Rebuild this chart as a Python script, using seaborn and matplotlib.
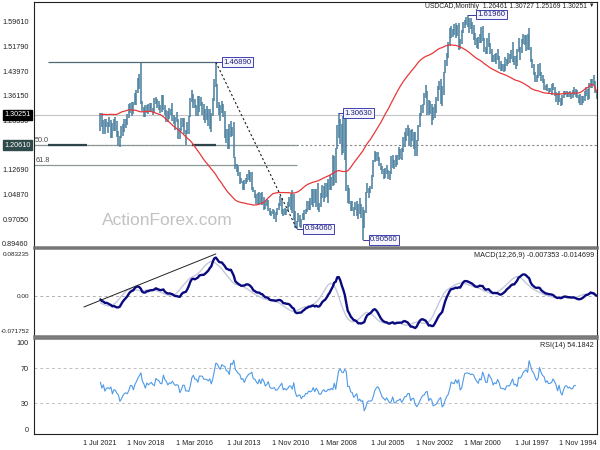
import numpy as np
import pandas as pd
import matplotlib
matplotlib.use("Agg")
import matplotlib.pyplot as plt
import matplotlib.transforms as mtransforms
import seaborn as sns

# ---------------- data (USDCAD monthly, Nov 1994 .. Jun 2022) ----------------
start = "1994-11"
end = "2022-06"

close = [
    1.3745, 1.4030,
    1.4135, 1.3965, 1.4035, 1.3585, 1.3660, 1.3745, 1.3500, 1.3435, 1.3420, 1.3460, 1.3550, 1.3650,
    1.3760, 1.3750, 1.3630, 1.3625, 1.3680, 1.3650, 1.3720, 1.3710, 1.3590, 1.3390, 1.3470, 1.3695,
    1.3480, 1.3690, 1.3840, 1.3960, 1.3830, 1.3800, 1.3790, 1.3900, 1.3850, 1.4080, 1.4140, 1.4290,
    1.4580, 1.4240, 1.4150, 1.4330, 1.4580, 1.4710, 1.5110, 1.5730, 1.5200, 1.5460, 1.5410, 1.5320,
    1.5140, 1.5040, 1.5110, 1.4580, 1.4740, 1.4700, 1.5110, 1.4900, 1.4690, 1.4700, 1.4680, 1.4450,
    1.4510, 1.4520, 1.4530, 1.4810, 1.4990, 1.4790, 1.4850, 1.4740, 1.5040, 1.5210, 1.5390, 1.5000,
    1.5020, 1.5420, 1.5750, 1.5340, 1.5430, 1.5170, 1.5320, 1.5500, 1.5790, 1.5880, 1.5850, 1.5950,
    1.5970, 1.5980, 1.5950, 1.5680, 1.5300, 1.5190, 1.5800, 1.5600, 1.5850, 1.5610, 1.5650, 1.5720,
    1.5280, 1.4880, 1.4700, 1.4350, 1.3730, 1.3480, 1.4040, 1.3860, 1.3500, 1.3190, 1.3020, 1.2920,
    1.3260, 1.3360, 1.3090, 1.3720, 1.3640, 1.3350, 1.3300, 1.3030, 1.2650, 1.2200, 1.1880, 1.2020,
    1.2390, 1.2350, 1.2100, 1.2580, 1.2550, 1.2260, 1.2250, 1.1900, 1.1610, 1.1810, 1.1660, 1.1630,
    1.1390, 1.1370, 1.1670, 1.1190, 1.1030, 1.1150, 1.1300, 1.1060, 1.1150, 1.1230, 1.1420, 1.1650,
    1.1790, 1.1700, 1.1530, 1.1090, 1.0700, 1.0660, 1.0670, 1.0560, 0.9950, 0.9450, 0.9990, 0.9880,
    1.0010, 0.9840, 1.0260, 1.0070, 0.9900, 1.0190, 1.0240, 1.0620, 1.0600, 1.2140, 1.2420, 1.2180,
    1.2270, 1.2730, 1.2600, 1.1950, 1.0920, 1.1630, 1.0780, 1.0950, 1.0720, 1.0810, 1.0560, 1.0500,
    1.0690, 1.0520, 1.0150, 1.0150, 1.0450, 1.0650, 1.0290, 1.0650, 1.0290, 1.0200, 1.0270, 0.9990,
    1.0010, 0.9720, 0.9720, 0.9470, 0.9700, 0.9640, 0.9550, 0.9790, 1.0470, 0.9940, 1.0200, 1.0190,
    1.0000, 0.9880, 0.9980, 0.9880, 1.0340, 1.0180, 1.0030, 0.9860, 0.9830, 0.9990, 0.9940, 0.9940,
    1.0000, 1.0310, 1.0160, 1.0080, 1.0360, 1.0520, 1.0270, 1.0540, 1.0300, 1.0430, 1.0610, 1.0630,
    1.1140, 1.1070, 1.1050, 1.0960, 1.0850, 1.0670, 1.0910, 1.0870, 1.1200, 1.1270, 1.1430, 1.1600,
    1.2700, 1.2500, 1.2670, 1.2070, 1.2450, 1.2490, 1.3080, 1.3150, 1.3340, 1.3080, 1.3350, 1.3840,
    1.4010, 1.3530, 1.2990, 1.2550, 1.3100, 1.2920, 1.3060, 1.3120, 1.3110, 1.3410, 1.3430, 1.3430,
    1.3030, 1.3290, 1.3300, 1.3650, 1.3500, 1.2960, 1.2450, 1.2500, 1.2480, 1.2890, 1.2900, 1.2560,
    1.2300, 1.2830, 1.2890, 1.2830, 1.2960, 1.3150, 1.3010, 1.3050, 1.2920, 1.3160, 1.3300, 1.3640,
    1.3120, 1.3150, 1.3350, 1.3410, 1.3510, 1.3090, 1.3160, 1.3310, 1.3240, 1.3170, 1.3280, 1.2990,
    1.3230, 1.3420, 1.4070, 1.3920, 1.3780, 1.3580, 1.3400, 1.3050, 1.3320, 1.3320, 1.3000, 1.2730,
    1.2780, 1.2720, 1.2570, 1.2290, 1.2070, 1.2390, 1.2480, 1.2630, 1.2670, 1.2380, 1.2770, 1.2650,
    1.2710, 1.2680, 1.2500, 1.2850, 1.2650, 1.30251,
]

high = [
    1.3800, 1.4080,
    1.4267, 1.4160, 1.4160, 1.4040, 1.3840, 1.3900, 1.3780, 1.3620, 1.3600, 1.3690, 1.3650, 1.3820,
    1.3840, 1.3890, 1.3790, 1.3700, 1.3760, 1.3740, 1.3770, 1.3780, 1.3760, 1.3640, 1.3540, 1.3760,
    1.3720, 1.3750, 1.3890, 1.4030, 1.3990, 1.3880, 1.3860, 1.3990, 1.3960, 1.4140, 1.4270, 1.4390,
    1.4660, 1.4620, 1.4280, 1.4390, 1.4620, 1.4790, 1.5160, 1.5770, 1.5570, 1.5560, 1.5550, 1.5590,
    1.5410, 1.5170, 1.5460, 1.5120, 1.4890, 1.4890, 1.5320, 1.5070, 1.4960, 1.4980, 1.4800, 1.4850,
    1.4620, 1.4620, 1.4710, 1.4870, 1.5090, 1.4990, 1.4960, 1.4900, 1.5110, 1.5280, 1.5600, 1.5460,
    1.5180, 1.5460, 1.5820, 1.5800, 1.5580, 1.5500, 1.5460, 1.5600, 1.5850, 1.5950, 1.6090, 1.6090,
    1.6196, 1.6120, 1.6030, 1.5960, 1.5700, 1.5420, 1.5930, 1.5880, 1.5940, 1.5890, 1.5750, 1.5820,
    1.5760, 1.5340, 1.4990, 1.4750, 1.4390, 1.3930, 1.4140, 1.4080, 1.3940, 1.3580, 1.3350, 1.3260,
    1.3370, 1.3470, 1.3490, 1.3780, 1.3970, 1.3710, 1.3360, 1.3340, 1.3080, 1.2690, 1.2230, 1.2460,
    1.2480, 1.2560, 1.2550, 1.2600, 1.2690, 1.2600, 1.2460, 1.2310, 1.1960, 1.1920, 1.2000, 1.1740,
    1.1730, 1.1580, 1.1740, 1.1710, 1.1230, 1.1270, 1.1440, 1.1330, 1.1290, 1.1400, 1.1480, 1.1690,
    1.1850, 1.1830, 1.1860, 1.1570, 1.1100, 1.0760, 1.0700, 1.0850, 1.0580, 0.9990, 1.0110, 1.0200,
    1.0380, 1.0180, 1.0300, 1.0260, 1.0080, 1.0270, 1.0290, 1.0710, 1.0800, 1.2960, 1.2990, 1.2990,
    1.2740, 1.2890, 1.3063, 1.2680, 1.1980, 1.1720, 1.1730, 1.1060, 1.1120, 1.0980, 1.0870, 1.0860,
    1.0770, 1.0780, 1.0540, 1.0230, 1.0850, 1.0680, 1.0680, 1.0670, 1.0670, 1.0370, 1.0280, 1.0280,
    1.0030, 1.0010, 0.9910, 0.9720, 0.9840, 0.9920, 0.9640, 0.9980, 1.0500, 1.0650, 1.0520, 1.0420,
    1.0250, 1.0030, 1.0050, 1.0020, 1.0380, 1.0450, 1.0230, 1.0050, 0.9930, 1.0000, 1.0030, 0.9970,
    1.0060, 1.0330, 1.0340, 1.0270, 1.0400, 1.0580, 1.0530, 1.0560, 1.0550, 1.0520, 1.0640, 1.0720,
    1.1220, 1.1220, 1.1280, 1.1140, 1.1000, 1.0950, 1.0930, 1.1000, 1.1210, 1.1390, 1.1470, 1.1680,
    1.2800, 1.2630, 1.2830, 1.2720, 1.2560, 1.2570, 1.3130, 1.3350, 1.3460, 1.3330, 1.3410, 1.4000,
    1.4689, 1.4140, 1.3540, 1.3080, 1.3190, 1.3190, 1.3290, 1.3200, 1.3360, 1.3410, 1.3590, 1.3600,
    1.3600, 1.3340, 1.3530, 1.3690, 1.3790, 1.3540, 1.2990, 1.2780, 1.2530, 1.2920, 1.2920, 1.2920,
    1.2590, 1.2870, 1.3120, 1.2960, 1.3020, 1.3380, 1.3200, 1.3220, 1.3150, 1.3180, 1.3340, 1.3660,
    1.3640, 1.3340, 1.3470, 1.3520, 1.3570, 1.3560, 1.3220, 1.3380, 1.3380, 1.3350, 1.3330, 1.3320,
    1.3260, 1.3470, 1.4667, 1.4300, 1.4170, 1.3810, 1.3720, 1.3420, 1.3420, 1.3390, 1.3370, 1.3050,
    1.2880, 1.2880, 1.2740, 1.2650, 1.2350, 1.2490, 1.2810, 1.2950, 1.2900, 1.2770, 1.2840, 1.2960,
    1.2800, 1.2880, 1.2870, 1.2860, 1.3080, 1.30727,
]

low = [
    1.3520, 1.3700,
    1.3960, 1.3880, 1.3880, 1.3530, 1.3480, 1.3630, 1.3470, 1.3380, 1.3340, 1.3330, 1.3400, 1.3550,
    1.3580, 1.3650, 1.3560, 1.3520, 1.3570, 1.3580, 1.3580, 1.3640, 1.3540, 1.3330, 1.3290, 1.3420,
    1.3330, 1.3440, 1.3600, 1.3800, 1.3650, 1.3740, 1.3700, 1.3760, 1.3790, 1.3800, 1.4020, 1.4080,
    1.4240, 1.4200, 1.4050, 1.4050, 1.4290, 1.4500, 1.4690, 1.5070, 1.5080, 1.5050, 1.5220, 1.5260,
    1.4980, 1.4760, 1.5010, 1.4560, 1.4480, 1.4590, 1.4700, 1.4780, 1.4650, 1.4630, 1.4570, 1.4420,
    1.4360, 1.4420, 1.4420, 1.4460, 1.4760, 1.4630, 1.4690, 1.4700, 1.4700, 1.4940, 1.5170, 1.4950,
    1.4950, 1.5000, 1.5350, 1.5300, 1.5290, 1.5100, 1.5150, 1.5240, 1.5400, 1.5580, 1.5740, 1.5600,
    1.5810, 1.5860, 1.5780, 1.5600, 1.5260, 1.5110, 1.5070, 1.5510, 1.5460, 1.5560, 1.5500, 1.5460,
    1.5210, 1.4830, 1.4550, 1.4340, 1.3640, 1.3310, 1.3360, 1.3800, 1.3450, 1.3090, 1.2920, 1.2840,
    1.2680, 1.3050, 1.3000, 1.3000, 1.3560, 1.3330, 1.3090, 1.2990, 1.2630, 1.2180, 1.1720, 1.1720,
    1.1950, 1.2200, 1.1990, 1.2050, 1.2360, 1.2190, 1.2010, 1.1850, 1.1590, 1.1620, 1.1600, 1.1430,
    1.1350, 1.1300, 1.1320, 1.1150, 1.0940, 1.0990, 1.1140, 1.1030, 1.0990, 1.1150, 1.1260, 1.1380,
    1.1550, 1.1560, 1.1510, 1.1060, 1.0680, 1.0530, 1.0370, 1.0530, 0.9920, 0.9420, 0.9056, 0.9750,
    0.9880, 0.9720, 0.9820, 1.0000, 0.9810, 0.9960, 0.9980, 1.0190, 1.0230, 1.0600, 1.1580, 1.1820,
    1.1740, 1.2100, 1.2270, 1.1930, 1.0860, 1.0790, 1.0760, 1.0640, 1.0640, 1.0210, 1.0400, 1.0380,
    1.0260, 1.0370, 1.0090, 0.9930, 1.0000, 1.0100, 1.0230, 1.0110, 1.0170, 1.0000, 1.0000, 0.9930,
    0.9860, 0.9690, 0.9670, 0.9440, 0.9450, 0.9620, 0.9406, 0.9430, 0.9690, 0.9890, 1.0000, 1.0090,
    0.9970, 0.9840, 0.9840, 0.9800, 0.9870, 1.0120, 1.0000, 0.9830, 0.9630, 0.9730, 0.9880, 0.9800,
    0.9840, 0.9960, 1.0130, 1.0030, 1.0000, 1.0170, 1.0200, 1.0180, 1.0180, 1.0180, 1.0370, 1.0560,
    1.0620, 1.0900, 1.0950, 1.0890, 1.0810, 1.0640, 1.0620, 1.0850, 1.0810, 1.1080, 1.1190, 1.1310,
    1.1640, 1.2350, 1.2300, 1.1950, 1.1920, 1.2140, 1.2290, 1.2950, 1.3080, 1.2830, 1.3000, 1.3240,
    1.3890, 1.3470, 1.2970, 1.2460, 1.2570, 1.2650, 1.2840, 1.2760, 1.2840, 1.3000, 1.3290, 1.3120,
    1.2970, 1.2970, 1.3220, 1.3220, 1.3430, 1.2960, 1.2410, 1.2410, 1.2061, 1.2420, 1.2640, 1.2520,
    1.2250, 1.2250, 1.2790, 1.2530, 1.2730, 1.2810, 1.3010, 1.2880, 1.2780, 1.2780, 1.3000, 1.3170,
    1.3120, 1.3070, 1.3170, 1.3250, 1.3350, 1.3060, 1.3000, 1.3130, 1.3130, 1.3040, 1.3070, 1.2950,
    1.2950, 1.3150, 1.3350, 1.3850, 1.3720, 1.3320, 1.3330, 1.3040, 1.2990, 1.3080, 1.2930, 1.2700,
    1.2590, 1.2470, 1.2360, 1.2270, 1.2007, 1.2020, 1.2300, 1.2490, 1.2500, 1.2290, 1.2290, 1.2620,
    1.2450, 1.2640, 1.2400, 1.2400, 1.2630, 1.25169,
]

# price-axis ticks and highlighted prices
price_ticks = [1.59610, 1.51790, 1.43970, 1.36150, 1.28330, 1.12690, 1.04870, 0.97050, 0.89460]
current_price = 1.30251
support_level = 1.20610
resistance_level = 1.46890
fib_levels = [1.20475, 1.14241]
fib_names = ["50.0", "61.8"]

# peak / trough labels (month, price, text)
marker_months = ["2016-01", "2002-01", "2009-03", "2011-07", "2007-11"]
marker_prices = [1.46890, 1.61960, 1.30630, 0.94060, 0.90560]
marker_texts = ["1.46890", "1.61960", "1.30630", "0.94060", "0.90560"]

# time axis labels
time_months = ["2021-07", "2018-11", "2016-03", "2013-07", "2010-11", "2008-03",
               "2005-07", "2002-11", "2000-03", "1997-07", "1994-11"]
time_labels = ["1 Jul 2021", "1 Nov 2018", "1 Mar 2016", "1 Jul 2013", "1 Nov 2010", "1 Mar 2008",
               "1 Jul 2005", "1 Nov 2002", "1 Mar 2000", "1 Jul 1997", "1 Nov 1994"]

# user drawn lines (month, value)
res_line_months = ["2025-05", "2016-01"]
sup_segments = [("2025-05", "2023-03"), ("2017-05", "2016-01")]
diag_months = ["2016-01", "2011-07"]
diag_prices = [1.46890, 0.94060]
macd_trend_months = ["2023-05", "2016-01"]
macd_trend_values = [-0.0227, 0.0840]

header = "USDCAD,Monthly  1.26461 1.30727 1.25169 1.30251"
macd_header = "MACD(12,26,9) -0.007353 -0.014699"
rsi_header = "RSI(14) 54.1842"

# ---------------- frame ----------------
months = pd.period_range(start, end, freq="M")
p0 = pd.Period(start, freq="M")


def mi(m):
    return (pd.Period(m, freq="M") - p0).n


df = pd.DataFrame({"i": np.arange(len(months)), "close": close, "high": high, "low": low})
s = df["close"]
df["ma"] = s.rolling(50, min_periods=1).mean()
ema12 = s.ewm(span=12, adjust=False).mean()
ema26 = s.ewm(span=26, adjust=False).mean()
df["macd"] = ema12 - ema26
df["signal"] = df["macd"].rolling(9, min_periods=1).mean()

# Wilder RSI(14)
cv = np.asarray(close, dtype=float)
dlt = np.diff(cv)
gains = np.clip(dlt, 0, None)
losses = np.clip(-dlt, 0, None)
rsi = np.full(len(cv), np.nan)
N = 14
ag = gains[:N].mean()
al = losses[:N].mean()
rsi[N] = 100 - 100 / (1 + ag / al)
for k in range(N, len(dlt)):
    ag = (ag * (N - 1) + gains[k]) / N
    al = (al * (N - 1) + losses[k]) / N
    rsi[k + 1] = 100 - 100 / (1 + ag / al)
df["rsi"] = rsi

# ---------------- style ----------------
sns.set_style("white")
plt.rcParams["font.family"] = ["Liberation Sans", "DejaVu Sans"]
FS = 5.2
BAR = "#4e81a0"

W, H = 600, 450
fig = plt.figure(figsize=(6, 4.5), dpi=100)
fig.patch.set_facecolor("white")


def px_axes(x0, y0, x1, y1):
    return fig.add_axes([x0 / W, 1 - y1 / H, (x1 - x0) / W, (y1 - y0) / H])


ax = px_axes(34, 2, 597, 247)
axm = px_axes(34, 248, 597, 336)
axr = px_axes(34, 338, 597, 434)

XL = (375.3, -0.3)
for a in (ax, axm, axr):
    a.set_xlim(*XL)
    a.set_facecolor("white")
    for sp in a.spines.values():
        sp.set_color("#222222")
        sp.set_linewidth(0.8)
    a.tick_params(axis="y", direction="out", length=2.5, width=0.6, labelsize=FS, pad=1.5, colors="#222222")

for a in (ax, axm):
    a.spines["bottom"].set_linewidth(1.8)
    a.spines["bottom"].set_color("#777777")
    a.set_xticks([])
for a in (axm, axr):
    a.spines["top"].set_linewidth(1.8)
    a.spines["top"].set_color("#777777")

# ---------------- main price panel ----------------
ax.set_ylim(0.8827, 1.6595)
ax.axhline(current_price, color="#c4c4c4", lw=0.8, zorder=1)
ax.axhline(support_level, color="#888888", lw=0.8, ls=(0, (2, 2)), zorder=1)
xl_left = XL[0]
for lev, name in zip(fib_levels, fib_names):
    ax.hlines(lev, mi("2011-07"), xl_left, color="#8a9898", lw=0.9, zorder=1)
    ax.text(xl_left - 0.8, lev + 0.004, name, fontsize=FS, color="#444444", ha="left", va="bottom")
ax.hlines(resistance_level, mi(res_line_months[0]), mi(res_line_months[1]), color="#4f6a72", lw=0.9, zorder=1)
for a0, a1 in sup_segments:
    ax.hlines(support_level, mi(a0), mi(a1), color="#2e4448", lw=1.6, zorder=2)

ax.vlines(df["i"], df["low"], df["high"], color=BAR, lw=1.15, zorder=3)
sns.lineplot(x=df["i"], y=df["ma"], ax=ax, color="#e8383a", lw=0.9, zorder=4)
ax.plot([mi(m) for m in diag_months], diag_prices, color="#222222", lw=0.8, ls=(0, (2, 2)), zorder=4)

offsets = [5.2, 6.5, 4.0, 5.3, 4.8]
for m, p, t, o in zip(marker_months, marker_prices, marker_texts, offsets):
    x = mi(m)
    ax.plot([x, x - o], [p, p], color="#3a3aa0", lw=0.7, zorder=5)
    ax.text(x - o, p, t, fontsize=5.6, color="#20207a", ha="left", va="center", zorder=6,
            bbox=dict(boxstyle="square,pad=0.18", fc="#f5f5ff", ec="#4040b0", lw=0.7))

ax.set_yticks(price_ticks)
ax.set_yticklabels([f"{v:.5f}" for v in price_ticks])
trans = mtransforms.blended_transform_factory(ax.transAxes, ax.transData)
ax.text(-0.006, current_price, "1.30251", transform=trans, ha="right", va="center", fontsize=FS,
        color="white", clip_on=False, zorder=10,
        bbox=dict(boxstyle="square,pad=0.2", fc="black", ec="black"))
ax.text(-0.006, support_level, "1.20610", transform=trans, ha="right", va="center", fontsize=FS,
        color="white", clip_on=False, zorder=10,
        bbox=dict(boxstyle="square,pad=0.2", fc="#2e4a4a", ec="#2e4a4a"))

ax.text(0.236, 0.11, "ActionForex.com", transform=ax.transAxes, fontsize=12.5, color="#c2c2c2",
        ha="center", va="center", zorder=2)
ax.text(0.983, 0.995, header, transform=ax.transAxes, fontsize=4.9, color="#222222", ha="right", va="top")
ax.text(0.995, 0.995, "\u25bc", transform=ax.transAxes, fontsize=4, color="#222222", ha="right", va="top")

# ---------------- MACD panel ----------------
axm.set_ylim(-0.0810, 0.0959)
axm.axhline(0, color="#b0b0b0", lw=0.7, ls=(0, (3, 3)), zorder=1)
sns.lineplot(x=df["i"], y=df["signal"], ax=axm, color="#c6c8dc", lw=1.0, zorder=2)
sns.lineplot(x=df["i"], y=df["macd"], ax=axm, color="#0a0a80", lw=1.7, zorder=3)
axm.plot([mi(m) for m in macd_trend_months], macd_trend_values, color="#222222", lw=0.7, zorder=4)
axm.set_yticks([0.083235, 0.0, -0.071752])
axm.set_yticklabels(["0.083235", "0.00", "-0.071752"])
axm.tick_params(axis="y", labelsize=4.6, pad=1.0, length=2.0)
axm.text(0.995, 0.955, macd_header, transform=axm.transAxes, fontsize=FS, color="#222222", ha="right", va="top")

# ---------------- RSI panel ----------------
axr.set_ylim(-5.5, 105)
for lv in (70, 30):
    axr.axhline(lv, color="#c0c0c0", lw=0.7, ls=(0, (3, 3)), zorder=1)
sns.lineplot(x=df["i"], y=df["rsi"], ax=axr, color="#4f9ae6", lw=0.8, zorder=3)
axr.set_yticks([100, 70, 30, 0])
axr.set_yticklabels(["100", "70", "30", "0"])
axr.text(0.995, 0.955, rsi_header, transform=axr.transAxes, fontsize=FS, color="#222222", ha="right", va="top")
axr.set_xticks([mi(m) for m in time_months])
axr.set_xticklabels(time_labels, ha="right")
axr.tick_params(axis="x", direction="out", length=2.5, width=0.6, labelsize=FS, pad=2.0, colors="#222222")

for a in (ax, axm, axr):
    a.set_xlabel("")
    a.set_ylabel("")

fig.savefig("out.png", dpi=100, facecolor="white")
